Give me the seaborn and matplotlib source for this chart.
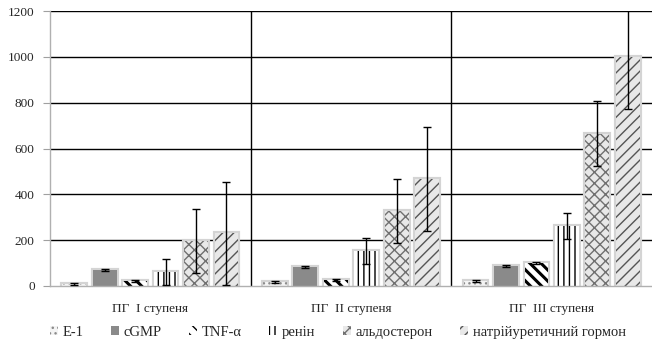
import numpy as np
import pandas as pd
import matplotlib
matplotlib.use("Agg")
import matplotlib.pyplot as plt
import matplotlib.patheffects as pe
import seaborn as sns
from matplotlib.container import BarContainer

# data
groups = ["ПГ  І ступеня", "ПГ  ІІ ступеня", "ПГ  ІІІ ступеня"]
markers = ["Е-1", "cGMP", "TNF-α", "ренін", "альдостерон", "натрійуретичний гормон"]

e1 = [10, 19, 22]
cgmp = [70, 83, 87]
tnf = [22, 28, 100]
renin = [61, 153, 262]
aldo = [195, 328, 664]
natri = [230, 467, 1000]

e1_err = [4, 4, 4]
cgmp_err = [5, 5, 5]
tnf_err = [4, 4, 5]
renin_err = [58, 57, 58]
aldo_err = [140, 140, 142]
natri_err = [225, 228, 227]

values = [e1, cgmp, tnf, renin, aldo, natri]
errors = [e1_err, cgmp_err, tnf_err, renin_err, aldo_err, natri_err]

df = pd.DataFrame(
    [(g, m, v[i]) for m, v in zip(markers, values) for i, g in enumerate(groups)],
    columns=["group", "marker", "value"],
)

sns.set_style("white")
plt.rcParams["font.serif"] = ["Liberation Serif", "DejaVu Serif"]
plt.rcParams["font.family"] = ["Liberation Serif", "DejaVu Serif"]
fam = ["Liberation Serif", "DejaVu Serif"]

# face colour, hatch, hatch colour per series
styles = [
    ("#f4f4f4", "...", "#8c8c8c"),
    ("#8a8a8a", "", "#8a8a8a"),
    ("white", "\\\\\\", "black"),
    ("white", "|||", "black"),
    ("#e8e8e8", "xxx", "#707070"),
    ("#e8e8e8", "///", "#555555"),
]

fig = plt.figure(figsize=(6.52, 3.49), dpi=100)
ax = fig.add_axes([50 / 652, 1 - 286 / 349, 1 - 50 / 652, 275 / 349])

sns.barplot(data=df, x="group", y="value", hue="marker", order=groups,
            hue_order=markers, width=0.91, gap=0.22, errorbar=None,
            legend=False, ax=ax)

bars = [c for c in ax.containers if isinstance(c, BarContainer)]
for cont, (fc, hatch, hc) in zip(bars, styles):
    for p in cont.patches:
        p.set_facecolor(fc)
        p.set_hatch(hatch)
        p.set_edgecolor(hc)
        p.set_linewidth(0)
        p.set_zorder(2)
        if hasattr(p, "set_hatch_linewidth"):
            p.set_hatch_linewidth(2.2 if hatch.startswith("\\") else 1.0)
        # soft grey halo like the original
        p.set_path_effects([pe.withStroke(linewidth=3, foreground="#d4d4d4"),
                            pe.Normal()])

# legend before the error bars are added
leg = fig.legend(bars, markers, loc="center", bbox_to_anchor=(0.518, 0.048),
                 ncol=6, frameon=False, prop={"family": fam, "size": 10.5},
                 handlelength=0.55, handleheight=0.55, handletextpad=0.3,
                 columnspacing=1.9, borderpad=0)
for h in leg.legend_handles:
    h.set_path_effects([])

for cont, err, val in zip(bars, errors, values):
    xs = [p.get_x() + p.get_width() / 2 for p in cont.patches]
    ax.errorbar(xs, val, yerr=err, fmt="none", ecolor="black",
                elinewidth=1, capsize=3, capthick=1, zorder=5)

ax.set_ylim(0, 1200)
ax.set_xlim(-0.5, 2.47)
yt = np.arange(0, 1201, 200)
ax.set_yticks(yt)
for y in yt[1:]:
    ax.axhline(y, color="black", lw=1, zorder=1)
for xb in [0.5, 1.5]:
    ax.axvline(xb, color="black", lw=1, zorder=1)

ax.set_xticks([0.5, 1.5, 2.5], minor=True)
ax.tick_params(axis="x", which="major", length=0, labelsize=9.5, pad=12)
ax.tick_params(axis="x", which="minor", length=5, color="#a0a0a0", direction="out")
ax.tick_params(axis="y", length=5, color="#a0a0a0", labelsize=9.5, pad=6, left=True)
for lab in ax.get_xticklabels() + ax.get_yticklabels():
    lab.set_fontfamily(fam)
ax.set_xlabel("")
ax.set_ylabel("")

sns.despine(ax=ax, top=True, right=True)
for s in ["left", "bottom"]:
    ax.spines[s].set_color("#b0b0b0")
    ax.spines[s].set_linewidth(1)

fig.savefig("out.png", dpi=100)
